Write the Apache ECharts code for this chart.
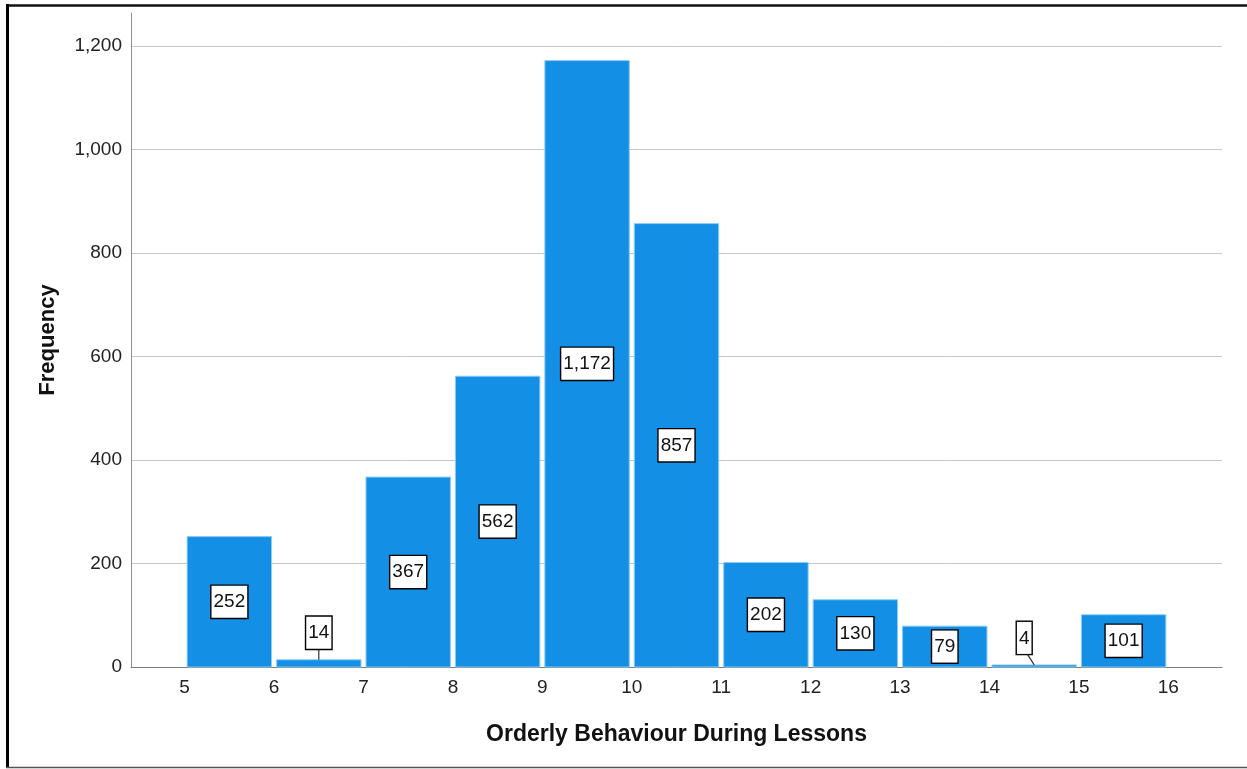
<!DOCTYPE html>
<html>
<head>
<meta charset="utf-8">
<title>Orderly Behaviour During Lessons</title>
<script src="https://cdn.jsdelivr.net/npm/echarts@6/dist/echarts.min.js"></script>
<style>
  html, body { margin: 0; padding: 0; background: #ffffff; }
  #chart { width: 1247px; height: 769px; }
</style>
</head>
<body>
<div id="chart"></div>
<script>
// Histogram bins (lower and upper edge) and their counts
const binStarts = [5, 6, 7, 8, 9, 10, 11, 12, 13, 14, 15];
const binEnds = [6, 7, 8, 9, 10, 11, 12, 13, 14, 15, 16];
const frequencies = [252, 14, 367, 562, 1172, 857, 202, 130, 79, 4, 101];

// Axis tick labels
const xTickValues = [5, 6, 7, 8, 9, 10, 11, 12, 13, 14, 15, 16];
const yTickValues = [0, 200, 400, 600, 800, 1000, 1200];

const xTitle = 'Orderly Behaviour During Lessons';
const yTitle = 'Frequency';

const FONT = '"Liberation Sans", Arial, Helvetica, sans-serif';
const BAR_FILL = '#1390e6';
const BAR_EDGE = '#8ccbf4';

// horizontal nudge for callout labels that would collide with a neighbour
const calloutShift = { 9: -10 };

const fmt = v => Number(v).toLocaleString('en-US');

const chart = echarts.init(document.getElementById('chart'), null, { renderer: 'canvas' });

function renderBin(params, api) {
  const x0 = api.value(0);
  const x1 = api.value(1);
  const v = api.value(2);
  const pTop = api.coord([x0, v]);
  const pBot = api.coord([x1, 0]);
  const left = pTop[0] + 2.5;
  const right = pBot[0] - 2.5;
  const top = pTop[1];
  const bottom = pBot[1];
  const cx = (pTop[0] + pBot[0]) / 2;
  const boxH = 32;
  const labelStyle = {
    text: fmt(v),
    font: '19px ' + FONT,
    fill: '#111',
    align: 'center',
    backgroundColor: '#ffffff',
    borderColor: '#000000',
    borderWidth: 1.4,
    padding: [6, 2, 5, 2],
    lineHeight: 21
  };
  const children = [{
    type: 'rect',
    shape: { x: left, y: top, width: right - left, height: bottom - top },
    style: { fill: BAR_FILL, stroke: BAR_EDGE, lineWidth: 1 }
  }];
  if (bottom - top >= boxH + 6) {
    children.push({
      type: 'text',
      x: cx, y: (top + bottom) / 2,
      style: Object.assign({}, labelStyle, { verticalAlign: 'middle' }),
      z2: 10
    });
  } else {
    const shift = calloutShift[params.dataIndex] || 0;
    const boxBottom = top - 11;
    children.push({
      type: 'line',
      shape: { x1: cx + shift * 0.7, y1: boxBottom, x2: cx, y2: top },
      style: { stroke: '#333', lineWidth: 1.2 }
    });
    children.push({
      type: 'text',
      x: cx + shift, y: boxBottom,
      style: Object.assign({}, labelStyle, { verticalAlign: 'bottom' }),
      z2: 10
    });
  }
  return { type: 'group', children };
}

const gridColors = yTickValues.map(() => '#c6c6c6').concat(['rgba(0,0,0,0)']);

const option = {
  backgroundColor: '#ffffff',
  animation: false,
  grid: { left: 131, right: 25, top: 13, bottom: 102, containLabel: false },
  xAxis: {
    type: 'value',
    min: 4.4,
    max: 16.6,
    name: xTitle,
    nameLocation: 'middle',
    nameGap: 56,
    nameTextStyle: { fontFamily: FONT, fontSize: 23, fontWeight: 'bold', color: '#111' },
    axisLine: { show: true, lineStyle: { color: '#7d7d7d', width: 1 } },
    axisTick: { show: false },
    splitLine: { show: false },
    axisLabel: {
      customValues: xTickValues,
      fontFamily: FONT, fontSize: 19, color: '#222', margin: 11,
      formatter: v => String(v)
    }
  },
  yAxis: {
    type: 'value',
    min: 0,
    max: 1264,
    interval: 200,
    name: yTitle,
    nameLocation: 'middle',
    nameGap: 72,
    nameTextStyle: { fontFamily: FONT, fontSize: 22, fontWeight: 'bold', color: '#111' },
    axisLine: { show: true, lineStyle: { color: '#8f8f8f', width: 1 } },
    axisTick: { show: false },
    splitLine: { show: true, lineStyle: { color: gridColors, width: 1 } },
    axisLabel: {
      customValues: yTickValues,
      fontFamily: FONT, fontSize: 19, color: '#222', margin: 9,
      formatter: v => fmt(v)
    }
  },
  graphic: [
    { type: 'line', silent: true, shape: { x1: 6, y1: 5.5, x2: 1247, y2: 5.5 }, style: { stroke: '#111', lineWidth: 2.5 } },
    { type: 'line', silent: true, shape: { x1: 7.5, y1: 4, x2: 7.5, y2: 768 }, style: { stroke: '#000', lineWidth: 3 } },
    { type: 'line', silent: true, shape: { x1: 6, y1: 767.5, x2: 1247, y2: 767.5 }, style: { stroke: '#555', lineWidth: 1.5 } }
  ],
  series: [{
    type: 'custom',
    renderItem: renderBin,
    encode: { x: [0, 1], y: 2 },
    data: binStarts.map((s, i) => [s, binEnds[i], frequencies[i]]),
    clip: false
  }]
};

chart.setOption(option);
</script>
</body>
</html>
